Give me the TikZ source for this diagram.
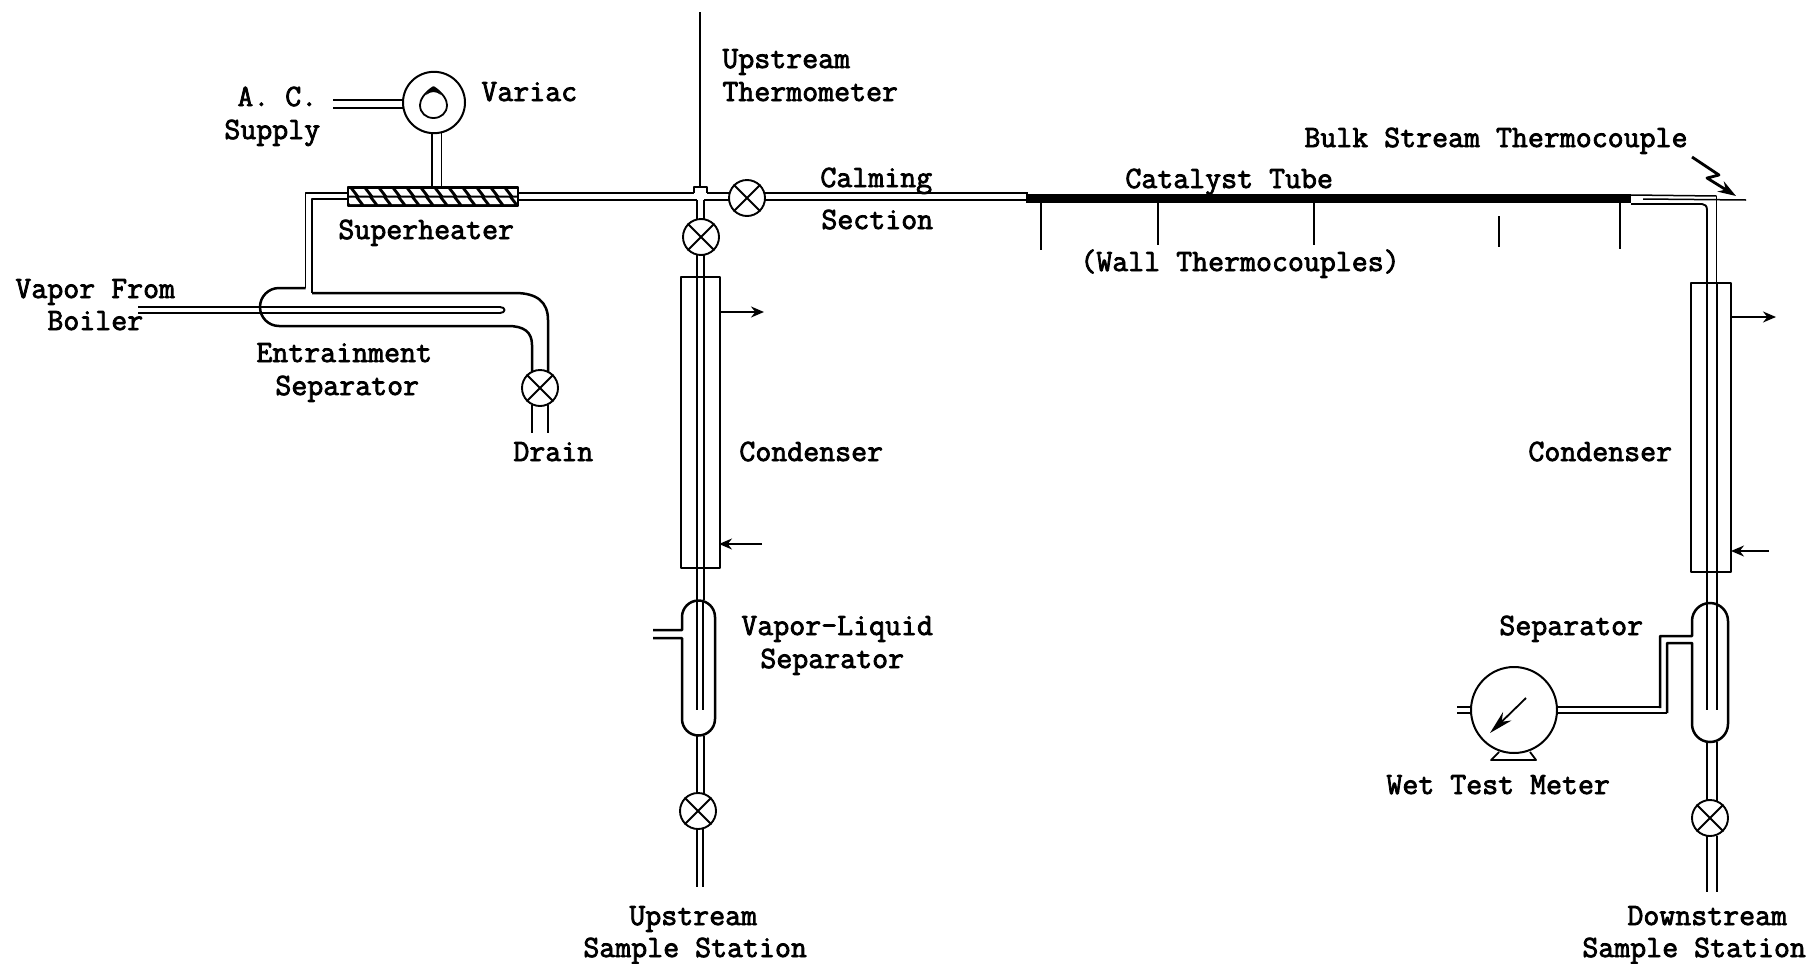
\documentclass[tikz,border=0pt]{standalone}
\usepackage{fontspec}
\newfontfamily\tw{Latin Modern Mono}[FakeBold=2.6]
\usetikzlibrary{arrows.meta}
\tikzset{
  x=0.5pt,y=-0.5pt,
  pipe/.style={line width=0.95pt,black},
  thin pipe/.style={line width=0.75pt,black},
  heavy pipe/.style={line width=1.25pt,black},
  valve/.style={circle,draw,line width=0.95pt,fill=white,minimum size=18pt,inner sep=0pt},
  lab/.style={anchor=base west,inner sep=0pt,font=\fontsize{15.5}{15.5}\selectfont\tw},
  tip/.style={-{Stealth[length=6.5pt,width=5.5pt]},line width=0.85pt}
}
\newcommand{\mkvalve}[2]{%
  \node[valve] (#1) at (#2) {};
  \draw[pipe] (#1.45)--(#1.225) (#1.135)--(#1.315);}
\begin{document}
\begin{tikzpicture}[line join=round]
\useasboundingbox (0,0) rectangle (1811,964);
% ---- A.C. supply, variac
\draw[pipe] (333,100)--(404,100) (333,108)--(404,108);
\draw[pipe] (432,133)--(432,187) (441.5,133)--(441.5,187);
\node[draw,circle,line width=1pt,minimum size=31pt,inner sep=0pt,fill=white,yscale=0.99] (variac) at (434,102.5) {};
\draw[line width=0.9pt] (433.5,87) .. controls (424,93) and (420,100) .. (420,105) .. controls (420,113) and (426,118) .. (433.5,118) .. controls (441,118) and (447,113) .. (447,105) .. controls (447,100) and (443,93) .. (433.5,87) -- cycle;
\fill (426,95) .. controls (429,91) and (431,88) .. (433.5,87) .. controls (436,88) and (438,91) .. (441,95) .. controls (436,91) and (431,91) .. (426,95) -- cycle;
% ---- superheater
\begin{scope}
\clip (348,187) rectangle (518,206);
\fill (348,187) rectangle (518,206);
\foreach \k in {340,354,...,530}{
  \fill[white] (\k,189)--(\k+10,189)--(\k+15,195.5)--(\k+5,195.5)--cycle;
  \fill[white] (\k+5,197.5)--(\k+15,197.5)--(\k+20,204)--(\k+10,204)--cycle;
}
\end{scope}
\node[draw,line width=1pt,minimum width=85pt,minimum height=9.5pt,inner sep=0pt] (superheater) at (433,196.5) {};
% ---- pipe from separator to superheater
\draw[pipe] (348,193)--(305.5,193)--(305.5,288);
\draw[pipe] (348,199)--(312,199)--(312,293);
% ---- entrainment separator
\draw[heavy pipe] (305.5,288)--(279,288) arc[start angle=270,end angle=90,radius=19] -- (508,326)
   .. controls (524,326) and (532,332) .. (532,345) -- (532,372);
\draw[heavy pipe] (312,293)--(515,293) .. controls (537,293) and (548,302) .. (548,320) -- (548,372);
\draw[pipe] (138,307)--(500,307) .. controls (506,307) and (506,313) .. (500,313) -- (138,313);
\mkvalve{drainv}{540,388}
\draw[pipe] (532,405)--(532,433) (548,405)--(548,433);
% ---- main pipe
\draw[pipe] (518,193)--(694,193) (707,193)--(730,193);
\draw[pipe] (518,200)--(697,200) (704,200)--(730,200);
\draw[line width=1.1pt] (694,193)--(694,187)--(707,187)--(707,193);
\draw[line width=0.9pt] (700,12)--(700,187);
\draw[pipe] (697,200)--(697,220) (704,200)--(704,220);
\mkvalve{topv}{701,237}
\mkvalve{mainv}{747,198}
\draw[pipe] (764,193)--(1028,193) (764,200)--(1028,200);
% ---- catalyst tube
\fill (1026,194) rectangle (1631,203);
\draw[thin pipe] (1631,195)--(1716.5,196);
\draw[pipe] (1716.5,196)--(1716.5,283);
\draw[pipe] (1631,204) -- (1702,204) .. controls (1705,204) and (1707,206) .. (1707,210) -- (1707,283);
\draw[thin pipe] (1643,199)--(1746,200);
\draw[-{Stealth[length=9pt,width=6pt]},line width=1.4pt] (1692,157)--(1719,175)--(1707,178)--(1736,196);
% ---- wall thermocouples
\coordinate (wa) at (1041,203);\coordinate (wb) at (1158,203);\coordinate (wc) at (1314,203);
\coordinate (wd) at (1499,216);\coordinate (we) at (1620,203);
\draw[thin pipe] (wa)--++(0,47) (wb)--++(0,42) (wc)--++(0,42) (wd)--++(0,31) (we)--++(0,46);
% ---- left condenser
\draw[pipe] (697,255)--(697,600) (704,255)--(704,600);
\node[draw,line width=1pt,minimum width=19.5pt,minimum height=145.5pt,inner sep=0pt] (condl) at (700,422.5) {};
\draw[tip] (719,312)--(764,312);
\draw[tip] (762,544)--(719,544);
% ---- left vapour-liquid separator
\draw[heavy pipe] (653,630)--(682,630)--(682,617) arc[start angle=180,end angle=360,radius=16.5] -- (715,719)
   arc[start angle=0,end angle=180,radius=16.5] -- (682,638)--(653,638);
\draw[pipe] (697,600)--(697,710) (703,600)--(703,710);
\draw[pipe] (697,736)--(697,795) (704,736)--(704,795);
\mkvalve{lowl}{698,811}
\draw[pipe] (697,829)--(697,887) (703,829)--(703,887);
% ---- right condenser
\draw[pipe] (1707,283)--(1707,603) (1717,283)--(1717,603);
\node[draw,line width=1pt,minimum width=20pt,minimum height=144.5pt,inner sep=0pt] (condr) at (1710.5,427.5) {};
\draw[tip] (1731,317)--(1776,317);
\draw[tip] (1769,551)--(1731,551);
% ---- right separator
\draw[heavy pipe] (1660,708)--(1660,636)--(1692,636)--(1692,621) arc[start angle=180,end angle=360,radius=18] -- (1728,724)
   arc[start angle=0,end angle=180,radius=18] -- (1692,643)--(1667,643)--(1667,713);
\draw[pipe] (1707,603)--(1707,710) (1717,603)--(1717,710);
\draw[pipe] (1707,742)--(1707,802) (1717,742)--(1717,802);
\mkvalve{lowr}{1710,818}
\draw[pipe] (1707,836)--(1707,892) (1717,836)--(1717,892);
% ---- wet test meter
\node[circle,draw,line width=1pt,minimum size=43pt,inner sep=0pt] (meter) at (1514,710) {};
\draw[pipe] (meter.east |- 0,707)--(1660,707);
\draw[line width=1.1pt] (meter.east |- 0,713)--(1667,713);
\draw[pipe] (1457,707)--(1471,707) (1457,713)--(1471,713);
\draw[-{Stealth[length=12pt,width=6pt]},line width=0.9pt] (1526,698)--(1490,733);
\draw[line width=0.9pt] (1499,752)--(1491,760)--(1536,760)--(1530,752);
% ---- labels
\node[lab] (t1) at (722,68) {Upstream};
\node[lab] (t2) at (722,101) {Thermometer};
\node[lab] (t3) at (481,101) {Variac};
\node[lab] (t4) at (237,106) {A. C.};
\node[lab] (t5) at (224,139) {Supply};
\node[lab] (t6) at (1304,147) {Bulk Stream Thermocouple};
\node[lab] (t7) at (820,187) {Calming};
\node[lab] (t8) at (821,229) {Section};
\node[lab] (t9) at (1125,188) {Catalyst Tube};
\node[lab] (t10) at (1080,271) {(Wall Thermocouples)};
\node[lab] (t11) at (338,239) {Superheater};
\node[lab] (t12) at (15,298) {Vapor From};
\node[lab] (t13) at (47,330) {Boiler};
\node[lab] (t14) at (256,362) {Entrainment};
\node[lab] (t15) at (275,395) {Separator};
\node[lab] (t16) at (513,461) {Drain};
\node[lab] (t17) at (739,461) {Condenser};
\node[lab] (t18) at (1528,461) {Condenser};
\node[lab] (t19) at (741,635) {Vapor-Liquid};
\node[lab] (t20) at (760,668) {Separator};
\node[lab] (t21) at (1499,635) {Separator};
\node[lab] (t22) at (1386,794) {Wet Test Meter};
\node[lab] (t23) at (629,925) {Upstream};
\node[lab] (t24) at (583,957) {Sample Station};
\node[lab] (t25) at (1627,925) {Downstream};
\node[lab] (t26) at (1582,957) {Sample Station};
\end{tikzpicture}
\end{document}
